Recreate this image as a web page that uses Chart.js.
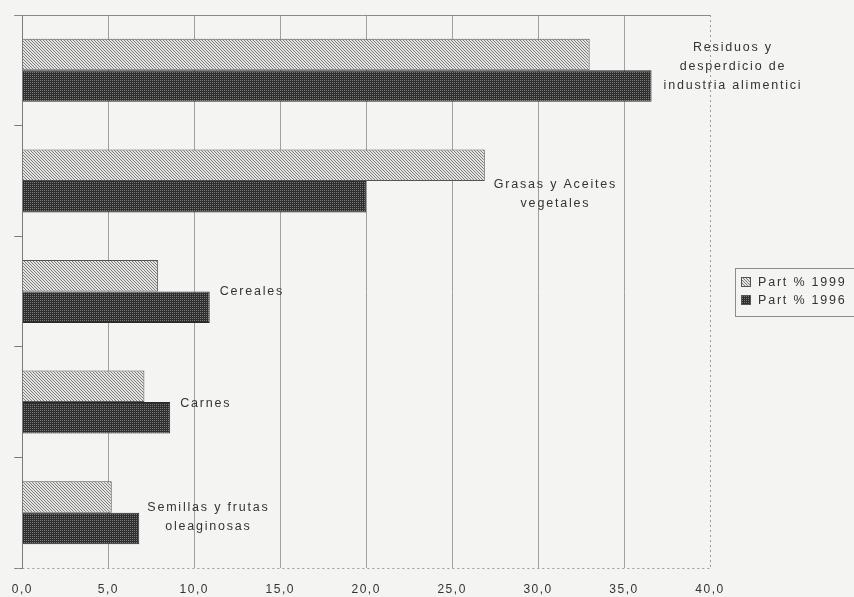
<!DOCTYPE html>
<html>
<head>
<meta charset="utf-8">
<script src="https://cdn.jsdelivr.net/npm/chart.js@4"></script>
<style>
  html, body { margin: 0; padding: 0; background: #f4f4f2; }
  #wrap { width: 854px; height: 597px; position: relative; }
</style>
</head>
<body>
<div id="wrap"><canvas id="chart"></canvas></div>
<script>
// ---- data ------------------------------------------------------------------
const categories = [
  ['Residuos y', 'desperdicio de', 'industria alimentici'],
  ['Grasas y Aceites', 'vegetales'],
  ['Cereales'],
  ['Carnes'],
  ['Semillas y frutas', 'oleaginosas'],
];
const part1999 = [33.0, 26.9, 7.9, 7.1, 5.2];
const part1996 = [36.6, 20.0, 10.9, 8.6, 6.8];
const seriesNames = ['Part % 1999', 'Part % 1996'];
const xTickLabels = ['0,0', '5,0', '10,0', '15,0', '20,0', '25,0', '30,0', '35,0', '40,0'];

// ---- styles ----------------------------------------------------------------
const FONT = '"Liberation Sans", Arial, sans-serif';
const TEXT = '#333333';
const GRID = '#a0a0a0';
const SPACING = '1.5px';
const CAPTION_FONT = '12.5px ' + FONT;
const CAPTION_SPACING = '1.8px';
// small tweaks of the in-plot category captions (dx, dy in px)
const LABEL_NUDGE = [[2, -4], [-1, 13], [0, 0], [0, 1], [-2, 4]];

// hatch fills, built on tiny offscreen canvases
function makePattern(size, bg, fg, cells) {
  const c = document.createElement('canvas');
  c.width = size; c.height = size;
  const g = c.getContext('2d');
  g.fillStyle = bg;
  g.fillRect(0, 0, size, size);
  g.fillStyle = fg;
  cells.forEach(([x, y]) => g.fillRect(x, y, 1, 1));
  return document.getElementById('chart').getContext('2d').createPattern(c, 'repeat');
}
const LIGHT = makePattern(3, '#e4e4e2', '#7c7c7c', [[0, 0], [1, 1], [2, 2]]);
const DARK  = makePattern(2, '#2e2e2e', '#7a7a7a', [[0, 0]]);

// frame: solid top, dotted right and bottom, letter spacing for all text
const framePlugin = {
  id: 'frame',
  beforeDraw(chart) {
    chart.ctx.letterSpacing = SPACING;
  },
  afterDraw(chart) {
    const { ctx, chartArea: a } = chart;
    ctx.save();
    ctx.lineWidth = 1;
    ctx.strokeStyle = '#8a8a8a';
    ctx.beginPath();
    ctx.moveTo(a.left - 7, a.top + 0.5);
    ctx.lineTo(a.right, a.top + 0.5);
    ctx.stroke();
    ctx.strokeStyle = '#9a9a9a';
    ctx.setLineDash([2, 3]);
    ctx.beginPath();
    ctx.moveTo(a.right + 0.5, a.top);
    ctx.lineTo(a.right + 0.5, a.bottom);
    ctx.moveTo(a.left - 5, a.bottom + 0.5);
    ctx.lineTo(a.right, a.bottom + 0.5);
    ctx.stroke();
    ctx.restore();
  },
};

// category captions written next to the longest bar of each group
const captionPlugin = {
  id: 'captions',
  afterDatasetsDraw(chart) {
    const { ctx, scales: { x, y } } = chart;
    ctx.save();
    ctx.letterSpacing = CAPTION_SPACING;
    ctx.font = CAPTION_FONT;
    ctx.fillStyle = TEXT;
    ctx.textAlign = 'center';
    ctx.textBaseline = 'middle';
    const lineH = 19;
    categories.forEach((lines, i) => {
      const end = x.getPixelForValue(Math.max(part1999[i], part1996[i]));
      const w = Math.max(...lines.map(l => ctx.measureText(l).width));
      const cx = end + 10 + w / 2 + LABEL_NUDGE[i][0];
      const cy = y.getPixelForValue(i) + LABEL_NUDGE[i][1] - (lines.length - 1) * lineH / 2;
      lines.forEach((l, k) => ctx.fillText(l, cx, cy + k * lineH));
    });
    ctx.restore();
  },
};

// boxed legend to the right of the plot
const legendPlugin = {
  id: 'boxLegend',
  afterDraw(chart) {
    const { ctx, chartArea: a } = chart;
    const bx = a.right + 25, by = 268, bw = 122, bh = 48;
    ctx.save();
    ctx.letterSpacing = CAPTION_SPACING;
    ctx.strokeStyle = '#8c8c8c';
    ctx.lineWidth = 1;
    ctx.strokeRect(bx + 0.5, by + 0.5, bw, bh);
    ctx.font = CAPTION_FONT;
    ctx.fillStyle = TEXT;
    ctx.textBaseline = 'middle';
    chart.data.datasets.forEach((ds, i) => {
      const cy = by + 14 + i * 18;
      ctx.fillStyle = ds.backgroundColor;
      ctx.fillRect(bx + 6, cy - 5, 10, 10);
      ctx.strokeStyle = '#555';
      ctx.strokeRect(bx + 6.5, cy - 4.5, 9, 9);
      ctx.fillStyle = TEXT;
      ctx.fillText(ds.label, bx + 23, cy + 1);
    });
    ctx.restore();
  },
};

new Chart(document.getElementById('chart'), {
  type: 'bar',
  data: {
    labels: categories,
    datasets: [
      { label: seriesNames[0], data: part1999, backgroundColor: LIGHT, borderColor: '#555', borderWidth: 1 },
      { label: seriesNames[1], data: part1996, backgroundColor: DARK,  borderColor: '#2a2a2a', borderWidth: 1 },
    ],
  },
  plugins: [framePlugin, captionPlugin, legendPlugin],
  options: {
    indexAxis: 'y',
    animation: false,
    responsive: true,
    maintainAspectRatio: false,
    categoryPercentage: 0.57,
    barPercentage: 1.0,
    layout: { padding: { top: 15, right: 144, left: 0, bottom: 0 } },
    plugins: {
      legend: { display: false },
      tooltip: { enabled: false },
    },
    scales: {
      x: {
        type: 'linear', min: 0, max: 40,
        afterFit(scale) { scale.height = 29; },
        ticks: {
          stepSize: 5,
          padding: 14,
          color: TEXT,
          font: { size: 12, family: FONT },
          maxRotation: 0,
          callback: (v, i) => xTickLabels[i],
        },
        grid: {
          drawTicks: false,
          color: ctx => (ctx.tick && ctx.tick.value === 40 ? 'rgba(0,0,0,0)' : GRID),
        },
        border: { display: false },
      },
      y: {
        type: 'category',
        afterFit(scale) { scale.width = 21; },
        ticks: { display: false },
        grid: {
          offset: true,
          drawOnChartArea: false,
          drawTicks: true,
          tickLength: 8,
          tickColor: '#7a7a7a',
        },
        border: { display: true, color: '#7a7a7a' },
      },
    },
  },
});
</script>
</body>
</html>
